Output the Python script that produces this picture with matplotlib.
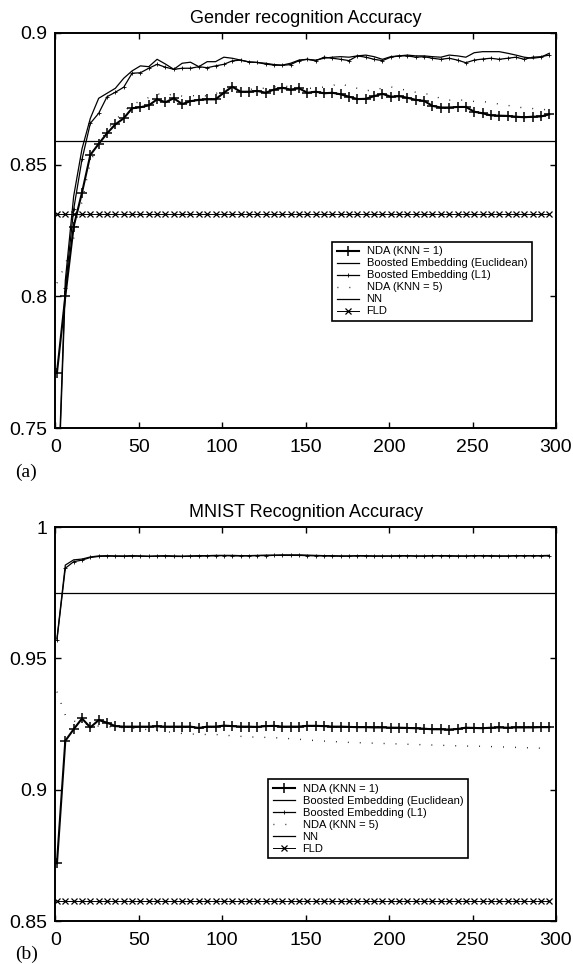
import numpy as np
import matplotlib.pyplot as plt

plt.rcParams['font.family'] = ['Liberation Sans', 'DejaVu Sans']

# number of dimensions (every 5th point was plotted)
dims = list(range(1, 300, 5))

# --- (a) Gender recognition ---
g_nda1 = [0.771, 0.800, 0.8265, 0.8394, 0.8537, 0.8579, 0.8619, 0.8653, 0.8676, 0.8714,
          0.8718, 0.8725, 0.8748, 0.8737, 0.8752, 0.8730, 0.8741, 0.8746, 0.8748, 0.8748,
          0.8773, 0.8796, 0.8777, 0.8777, 0.8780, 0.8773, 0.8785, 0.8792, 0.8785, 0.8790,
          0.8773, 0.8777, 0.8771, 0.8773, 0.8767, 0.8758, 0.8749, 0.8750, 0.8760, 0.8769,
          0.8758, 0.8760, 0.8754, 0.8746, 0.8742, 0.8723, 0.8717, 0.8717, 0.8719, 0.8719,
          0.8701, 0.8695, 0.8687, 0.8686, 0.8685, 0.8682, 0.8680, 0.8682, 0.8683, 0.8691]
g_boost_euc = [0.716, 0.806, 0.838, 0.856, 0.8676, 0.8752, 0.8771, 0.8790, 0.8828, 0.8856,
               0.8875, 0.8872, 0.8900, 0.8882, 0.8862, 0.8885, 0.8889, 0.8872, 0.8891, 0.8891,
               0.8908, 0.8904, 0.8897, 0.8890, 0.8888, 0.8885, 0.8880, 0.8878, 0.8885, 0.8897,
               0.8900, 0.8897, 0.8904, 0.8908, 0.8910, 0.8908, 0.8913, 0.8916, 0.8910, 0.8900,
               0.8910, 0.8913, 0.8916, 0.8913, 0.8913, 0.8910, 0.8908, 0.8916, 0.8913, 0.8908,
               0.8925, 0.8929, 0.8929, 0.8929, 0.8923, 0.8916, 0.8908, 0.8904, 0.8908, 0.8923]
g_boost_l1 = [0.712, 0.803, 0.833, 0.852, 0.8657, 0.8695, 0.8758, 0.8775, 0.8794, 0.8847,
              0.8849, 0.8866, 0.8881, 0.8870, 0.8862, 0.8866, 0.8866, 0.8872, 0.8868, 0.8875,
              0.8881, 0.8894, 0.8897, 0.8890, 0.8888, 0.8882, 0.8878, 0.8877, 0.8880, 0.8895,
              0.8900, 0.8894, 0.8908, 0.8904, 0.8900, 0.8895, 0.8913, 0.8908, 0.8900, 0.8895,
              0.8908, 0.8913, 0.8913, 0.8908, 0.8910, 0.8904, 0.8900, 0.8904, 0.8897, 0.8887,
              0.8897, 0.8901, 0.8904, 0.8900, 0.8904, 0.8908, 0.8900, 0.8908, 0.8910, 0.8916]
g_nda5 = [0.805, 0.812, 0.822, 0.836, 0.851, 0.858, 0.863, 0.867, 0.870, 0.873,
          0.874, 0.8755, 0.877, 0.876, 0.877, 0.876, 0.876, 0.8765, 0.876, 0.877,
          0.878, 0.879, 0.878, 0.8785, 0.879, 0.879, 0.8795, 0.880, 0.8795, 0.8795,
          0.879, 0.879, 0.8795, 0.880, 0.881, 0.8795, 0.879, 0.878, 0.8785, 0.879,
          0.8795, 0.879, 0.878, 0.8775, 0.877, 0.8765, 0.875, 0.8745, 0.8745, 0.8745,
          0.874, 0.874, 0.8735, 0.873, 0.8725, 0.872, 0.8715, 0.8713, 0.871, 0.8708]
g_nn = 0.859
g_fld = 0.8314

# --- (b) MNIST recognition ---
m_nda1 = [0.872, 0.9186, 0.9230, 0.9271, 0.9237, 0.9265, 0.9255, 0.9242, 0.9240, 0.9240,
          0.9240, 0.9240, 0.9241, 0.9240, 0.9240, 0.9240, 0.9240, 0.9235, 0.9240, 0.9240,
          0.9244, 0.9242, 0.9240, 0.9240, 0.9239, 0.9242, 0.9243, 0.9240, 0.9240, 0.9240,
          0.9243, 0.9243, 0.9242, 0.9240, 0.9240, 0.9239, 0.9238, 0.9238, 0.9237, 0.9237,
          0.9236, 0.9236, 0.9235, 0.9234, 0.9232, 0.9230, 0.9230, 0.9229, 0.9231, 0.9236,
          0.9235, 0.9234, 0.9236, 0.9237, 0.9236, 0.9237, 0.9237, 0.9237, 0.9238, 0.9238]
m_boost_euc = [0.9576, 0.9855, 0.9875, 0.9878, 0.9886, 0.9890, 0.9891, 0.9890, 0.9890, 0.9891,
               0.9890, 0.9889, 0.9890, 0.9891, 0.9890, 0.9889, 0.9890, 0.9891, 0.9891, 0.9892,
               0.9892, 0.9892, 0.9891, 0.9891, 0.9892, 0.9893, 0.9893, 0.9894, 0.9894, 0.9894,
               0.9893, 0.9892, 0.9891, 0.9891, 0.9890, 0.9890, 0.9891, 0.9891, 0.9890, 0.9890,
               0.9890, 0.9891, 0.9891, 0.9890, 0.9890, 0.9891, 0.9891, 0.9891, 0.9890, 0.9890,
               0.9891, 0.9891, 0.9891, 0.9890, 0.9890, 0.9891, 0.9891, 0.9891, 0.9891, 0.9892]
m_boost_l1 = [0.9570, 0.9843, 0.9868, 0.9874, 0.9884, 0.9888, 0.9889, 0.9889, 0.9888, 0.9889,
              0.9889, 0.9888, 0.9889, 0.9889, 0.9888, 0.9888, 0.9889, 0.9889, 0.9890, 0.9890,
              0.9891, 0.9890, 0.9890, 0.9890, 0.9891, 0.9891, 0.9892, 0.9892, 0.9892, 0.9892,
              0.9891, 0.9890, 0.9890, 0.9889, 0.9889, 0.9889, 0.9890, 0.9889, 0.9889, 0.9889,
              0.9889, 0.9889, 0.9890, 0.9889, 0.9889, 0.9890, 0.9890, 0.9889, 0.9889, 0.9889,
              0.9890, 0.9890, 0.9889, 0.9889, 0.9889, 0.9890, 0.9890, 0.9890, 0.9890, 0.9890]
m_nda5 = [0.9373, 0.9284, 0.9261, 0.9255, 0.9245, 0.9242, 0.9240, 0.9238, 0.9236, 0.9234,
          0.9232, 0.9228, 0.9224, 0.9221, 0.9218, 0.9214, 0.9212, 0.9211, 0.9210, 0.9210,
          0.9208, 0.9205, 0.9203, 0.9201, 0.9200, 0.9199, 0.9198, 0.9196, 0.9194, 0.9192,
          0.9189, 0.9187, 0.9185, 0.9183, 0.9182, 0.9180, 0.9179, 0.9178, 0.9177, 0.9176,
          0.9175, 0.9174, 0.9173, 0.9172, 0.9171, 0.9170, 0.9169, 0.9168, 0.9167, 0.9166,
          0.9166, 0.9165, 0.9164, 0.9163, 0.9162, 0.9161, 0.9160, 0.9159, 0.9158, 0.9156]
m_nn = 0.975
m_fld = 0.8576

legend_labels = ['NDA (KNN = 1)', 'Boosted Embedding (Euclidean)', 'Boosted Embedding (L1)',
                 'NDA (KNN = 5)', 'NN', 'FLD']


def draw_panel(ax, nda1, beuc, bl1, nda5, nn, fld, title, ylim, yticks, yticklabels, leg_pos):
    ax.plot(dims, nda1, color='black', lw=1.5, marker='+', ms=7, mew=1.1)
    ax.plot(dims, beuc, color='black', lw=0.9)
    ax.plot(dims, bl1, color='black', lw=0.9, marker='+', ms=3, mew=0.6)
    ax.plot(dims, nda5, color='black', lw=1.0, linestyle=(0, (0.6, 8)))
    ax.axhline(nn, color='black', lw=0.9)
    ax.plot(dims, [fld] * len(dims), color='black', lw=0.7, marker='x', ms=4.2, mew=0.9)
    ax.set_xlim(0, 300)
    ax.set_ylim(*ylim)
    ax.set_xticks([0, 50, 100, 150, 200, 250, 300])
    ax.set_yticks(yticks)
    ax.set_yticklabels(yticklabels)
    ax.tick_params(direction='in', top=True, right=True, length=4, width=1.0,
                   labelsize=14)
    ax.tick_params(axis='x', pad=8)
    ax.tick_params(axis='y', pad=6)
    for s in ax.spines.values():
        s.set_linewidth(1.4)
    ax.set_title(title, fontsize=13, pad=7)
    leg = ax.legend(legend_labels, loc='upper left', bbox_to_anchor=leg_pos,
                    borderaxespad=0, fontsize=8, fancybox=False, framealpha=1,
                    edgecolor='black', handlelength=2.0, handletextpad=0.7,
                    labelspacing=0.18, borderpad=0.4)
    leg.get_frame().set_linewidth(1.2)


fig = plt.figure(figsize=(5.73, 9.64), dpi=100)
ax1 = fig.add_axes([0.0965, 0.556, 0.8738, 0.4098])
ax2 = fig.add_axes([0.0965, 0.0446, 0.8738, 0.4087])

draw_panel(ax1, g_nda1, g_boost_euc, g_boost_l1, g_nda5, g_nn, g_fld,
           'Gender recognition Accuracy', (0.75, 0.9),
           [0.75, 0.8, 0.85, 0.9], ['0.75', '0.8', '0.85', '0.9'], (0.553, 0.471))
draw_panel(ax2, m_nda1, m_boost_euc, m_boost_l1, m_nda5, m_nn, m_fld,
           'MNIST Recognition Accuracy', (0.85, 1.0),
           [0.85, 0.9, 0.95, 1.0], ['0.85', '0.9', '0.95', '1'], (0.425, 0.360))

fig.text(0.026, 0.5105, '(a)', family='Liberation Serif', fontsize=14, va='center')
fig.text(0.026, 0.0095, '(b)', family='Liberation Serif', fontsize=14, va='center')

fig.savefig('out.png', dpi=100)
